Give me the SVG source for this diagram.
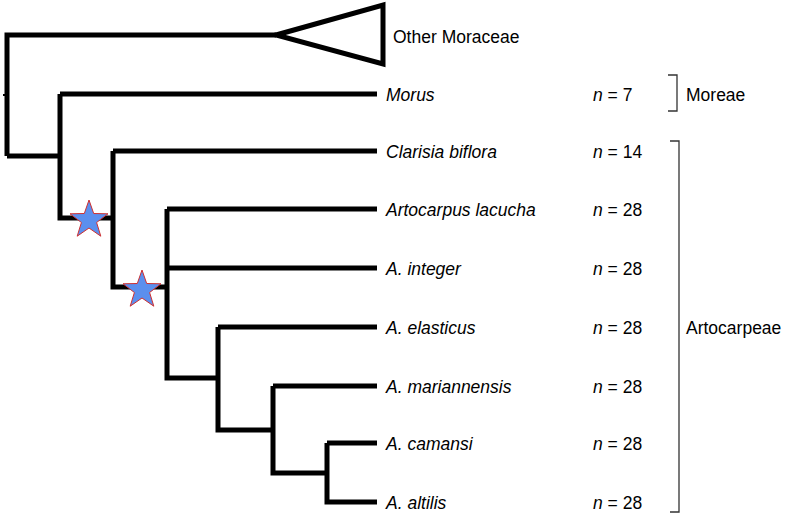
<svg xmlns="http://www.w3.org/2000/svg" width="797" height="520" viewBox="0 0 797 520">
<style>
.b{fill:none;stroke:#000;stroke-width:5;stroke-linecap:butt;stroke-linejoin:miter}
.br{fill:none;stroke:#333;stroke-width:1.3}
text{font-family:"Liberation Sans",Arial,sans-serif;font-size:17.5px;fill:#000}
.i{font-style:italic}
.s{fill:#5b8fee;stroke:#d03030;stroke-width:1}
</style>
<defs><polygon id="star" points="0,-20 4.7,-6.5 19,-6.2 7.6,2.5 11.8,16.2 0,8 -11.8,16.2 -7.6,2.5 -19,-6.2 -4.7,-6.5"/></defs>
<g id="connectors">
<path class="b" d="M7,156V35H276"/>
<path class="b" d="M7,156H60M60,94V218H113M60,94H377"/>
<path class="b" d="M113,151V287H167M113,151H377"/>
<path class="b" d="M167,209V378H218M167,209H377M167,268H377"/>
<path class="b" d="M218,327V430H273M218,327H377"/>
<path class="b" d="M273,386V473H327M273,386H377"/>
<path class="b" d="M327,443V502H377M327,443H377"/>
<path d="M3,95H7" stroke="#000" stroke-width="2"/>
</g>
<g id="triangle"><polygon points="276,35 383,5 383,64" fill="none" stroke="#000" stroke-width="5" stroke-linejoin="miter"/></g>
<g id="stars"><use href="#star" class="s" x="89" y="220"/><use href="#star" class="s" x="142" y="290"/></g>
<g id="labels">
<text x="393" y="43">Other Moraceae</text>
<text x="386" y="101" class="i">Morus</text>
<text x="386" y="158" class="i">Clarisia biflora</text>
<text x="386" y="216" class="i">Artocarpus lacucha</text>
<text x="386" y="275" class="i">A. integer</text>
<text x="386" y="334" class="i">A. elasticus</text>
<text x="386" y="393" class="i">A. mariannensis</text>
<text x="386" y="450" class="i">A. camansi</text>
<text x="386" y="509" class="i">A. altilis</text>
<text x="593" y="101"><tspan class="i">n</tspan> = 7</text>
<text x="593" y="158"><tspan class="i">n</tspan> = 14</text>
<text x="593" y="216"><tspan class="i">n</tspan> = 28</text>
<text x="593" y="275"><tspan class="i">n</tspan> = 28</text>
<text x="593" y="334"><tspan class="i">n</tspan> = 28</text>
<text x="593" y="393"><tspan class="i">n</tspan> = 28</text>
<text x="593" y="450"><tspan class="i">n</tspan> = 28</text>
<text x="593" y="509"><tspan class="i">n</tspan> = 28</text>
</g>
<g id="Moreae"><path class="br" d="M668,75H677V111H668"/><text x="686" y="101">Moreae</text></g>
<g id="Artocarpeae"><path class="br" d="M670,141H679V512H670"/><text x="686" y="334">Artocarpeae</text></g>
</svg>
